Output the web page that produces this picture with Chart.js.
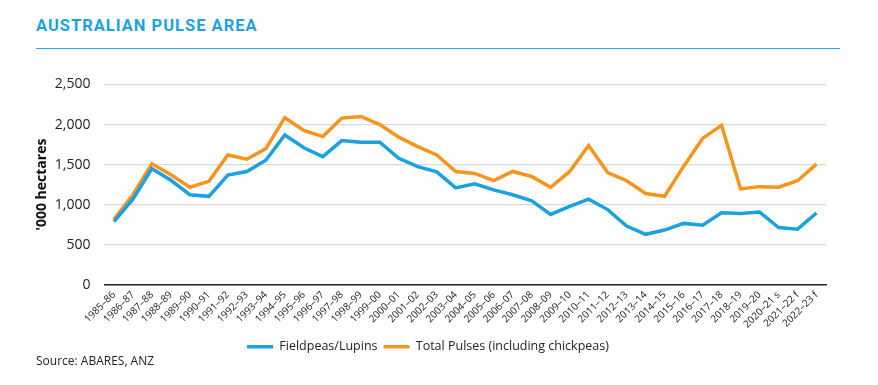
<!DOCTYPE html>
<html>
<head>
<meta charset="utf-8">
<script src="https://cdn.jsdelivr.net/npm/chart.js@4.4.0/dist/chart.umd.min.js"></script>
<style>
  body { margin: 0; background: #fff; width: 878px; height: 385px; overflow: hidden; font-family: "Open Sans", sans-serif; }
  #title { position: absolute; left: 36px; top: 16px; font-family: "Roboto", sans-serif; font-weight: 700; font-size: 16.5px; letter-spacing: 1px; color: #1AA3DF; }
  #rule { position: absolute; left: 36px; top: 48px; width: 804px; height: 0; border-top: 1.5px solid #29ABE2; }
  #wrap { position: absolute; left: 30px; top: 62px; width: 812px; height: 301px; }
  #source { position: absolute; left: 36px; top: 352px; font-size: 12px; color: #222; }
</style>
</head>
<body>
<div id="title">AUSTRALIAN PULSE AREA</div>
<div id="rule"></div>
<div id="wrap"><canvas id="myChart"></canvas></div>
<div id="source">Source: ABARES, ANZ</div>
<script>
// saisons 1985–86 à 2022–23
const saisons = ["1985–86", "1986–87", "1987–88", "1988–89", "1989–90", "1990–91", "1991–92", "1992–93", "1993–94", "1994–95",
  "1995–96", "1996–97", "1997–98", "1998–99", "1999–00", "2000–01", "2001–02", "2002–03", "2003–04", "2004–05",
  "2005–06", "2006–07", "2007–08", "2008–09", "2009–10", "2010–11", "2011–12", "2012–13", "2013–14", "2014–15",
  "2015–16", "2016–17", "2017–18", "2018–19", "2019–20", "2020–21 s", "2021–22 f", "2022–23 f"];

// '000 hectares
const fieldpeasLupins = [790, 1070, 1450, 1305, 1125, 1105, 1370, 1415, 1555, 1870,
  1710, 1600, 1800, 1780, 1780, 1580, 1475, 1410, 1210, 1260,
  1185, 1125, 1050, 880, 980, 1070, 940, 735, 632, 685,
  768, 745, 900, 890, 910, 716, 696, 897];

const totalPulses = [820, 1125, 1510, 1375, 1218, 1292, 1620, 1568, 1700, 2085,
  1926, 1850, 2080, 2100, 2000, 1843, 1724, 1620, 1415, 1390,
  1300, 1415, 1353, 1218, 1415, 1740, 1402, 1300, 1140, 1106,
  1478, 1827, 1990, 1198, 1226, 1218, 1300, 1507];

const yTicks = [0, 500, 1000, 1500, 2000, 2500];

const bleu = "#1BA1DE";
const orange = "#F7941D";

const ctx = document.getElementById('myChart');

new Chart(ctx, {
  type: 'line',
  data: {
    labels: saisons,
    datasets: [{
      label: 'Fieldpeas/Lupins',
      data: fieldpeasLupins,
      borderColor: bleu,
      backgroundColor: bleu,
      borderWidth: 3.5,
      pointRadius: 0,
      tension: 0
    }, {
      label: 'Total Pulses (including chickpeas)',
      data: totalPulses,
      borderColor: orange,
      backgroundColor: orange,
      borderWidth: 3.5,
      pointRadius: 0,
      tension: 0
    }]
  },
  options: {
    responsive: true,
    maintainAspectRatio: false,
    animation: false,
    layout: { padding: { left: 0, right: 16, top: 0, bottom: 0 } },
    plugins: {
      tooltip: { enabled: false },
      legend: {
        position: 'bottom',
        labels: {
          usePointStyle: true,
          pointStyle: 'line',
          pointStyleWidth: 26,
          color: '#222',
          font: { family: 'Open Sans', size: 12.5 },
          padding: 6
        }
      }
    },
    scales: {
      x: {
        offset: true,
        grid: { display: false, drawTicks: false },
        border: { display: true, color: '#222', width: 1.5 },
        ticks: {
          minRotation: 45,
          maxRotation: 45,
          autoSkip: false,
          padding: 4,
          color: '#222',
          font: { family: 'Open Sans', size: 10 }
        }
      },
      y: {
        min: 0,
        max: 2500,
        afterBuildTicks: (axis) => { axis.ticks = yTicks.map(v => ({ value: v })); },
        grid: { color: '#d9d9d9', lineWidth: 1.2, drawTicks: false },
        border: { display: false },
        title: {
          display: true,
          text: "'000 hectares",
          color: '#111',
          font: { family: 'Open Sans', size: 14, weight: 'bold' },
          padding: { top: 4, bottom: -10 }
        },
        ticks: {
          padding: 14,
          color: '#222',
          font: { family: 'Open Sans', size: 14 },
          callback: (v) => v.toLocaleString('en-US')
        }
      }
    }
  }
});
</script>
</body>
</html>
